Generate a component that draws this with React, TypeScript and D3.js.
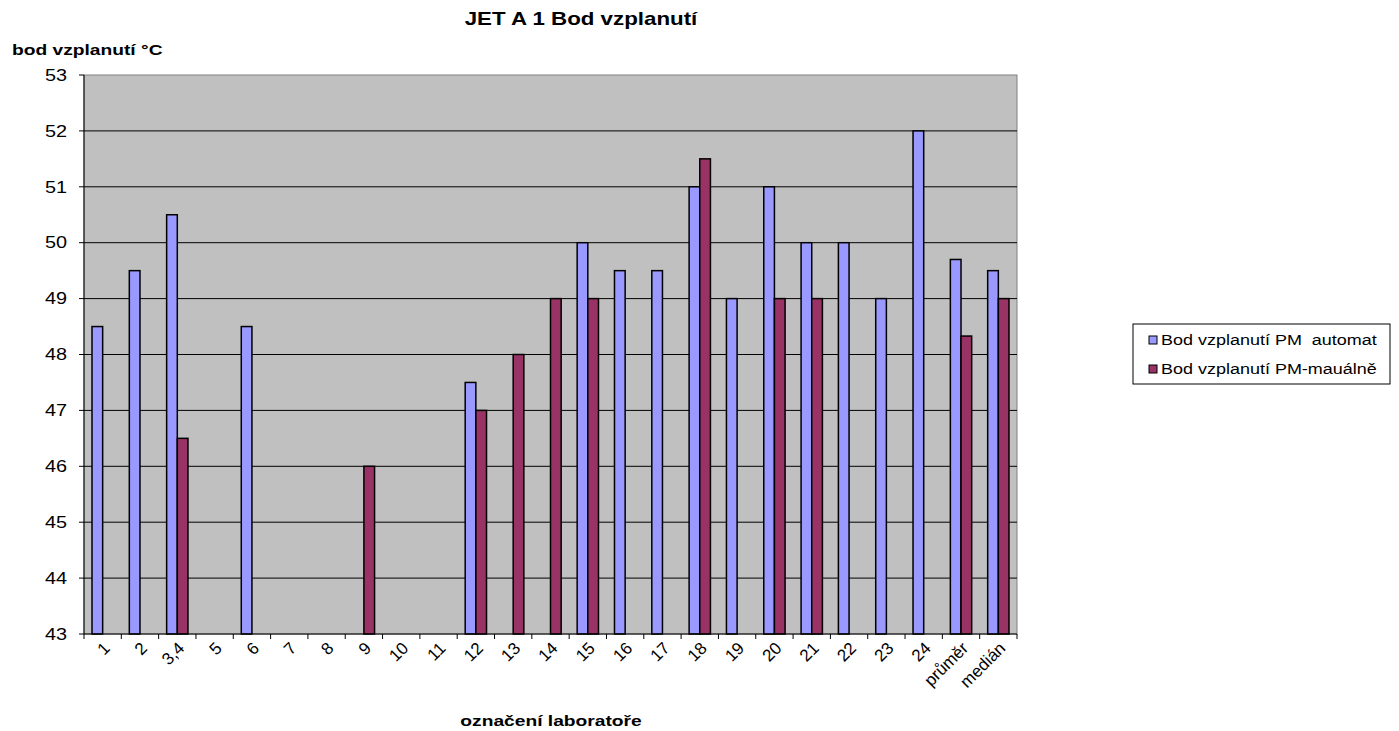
import React from "react";
import * as d3 from "d3";

const categories = ["1","2","3,4","5","6","7","8","9","10","11","12","13","14","15","16","17","18","19","20","21","22","23","24","průměr","medián"];
const automat: (number | null)[] = [48.5,49.5,50.5,null,48.5,null,null,null,null,null,47.5,null,null,50,49.5,49.5,51,49,51,50,50,49,52,49.7,49.5];
const manual: (number | null)[] = [null,null,46.5,null,null,null,null,46,null,null,47,48,49,49,null,null,51.5,null,49,49,null,null,null,48.33,49];
const seriesNames = ["Bod vzplanutí PM  automat", "Bod vzplanutí PM-mauálně"];
const seriesColors = ["#9999FF", "#993366"];
const yTicks = [43,44,45,46,47,48,49,50,51,52,53];

const SX = 1.24;

function T(props: { x: number; y: number; anchor?: string; size: number; bold?: boolean; children: React.ReactNode; dy?: string }) {
  return (
    <text transform={`translate(${props.x},${props.y}) scale(${SX},1)`} textAnchor={props.anchor || "start"}
      fontSize={props.size} fontWeight={props.bold ? "bold" : "normal"} dy={props.dy} style={{ whiteSpace: "pre" }}>
      {props.children}
    </text>
  );
}

export default function App() {
  const W = 1399, H = 731;
  const left = 84, right = 1017, top = 75, bottom = 634;
  const x = d3.scaleBand<string>().domain(categories).range([left, right]).paddingInner(0).paddingOuter(0);
  const y = d3.scaleLinear().domain([43, 53]).range([bottom, top]);
  const bw = x.bandwidth() / 3.5;
  const font = "'Liberation Sans', Arial, sans-serif";
  const series = [automat, manual];
  return (
    <svg width={W} height={H} style={{ position: "absolute", left: 0, top: 0 }} fontFamily={font}>
      <rect x={0} y={0} width={W} height={H} fill="#fff" />
      <T x={581} y={25} anchor="middle" size={18} bold>JET A 1 Bod vzplanutí</T>
      <T x={12} y={55} size={15.5} bold>bod vzplanutí °C</T>
      <rect x={left} y={top} width={right - left} height={bottom - top} fill="#C0C0C0" stroke="#808080" strokeWidth={1} />
      {yTicks.map((t) => (
        <g key={t}>
          {t > 43 && t < 53 && <line x1={left} x2={right} y1={y(t)} y2={y(t)} stroke="#000" strokeWidth={1} />}
          <line x1={left - 5} x2={left} y1={y(t)} y2={y(t)} stroke="#000" />
          <T x={67} y={y(t)} dy="0.36em" anchor="end" size={16}>{t}</T>
        </g>
      ))}
      {series.map((s, si) =>
        s.map((v, i) =>
          v == null ? null : (
            <rect key={si + "-" + i}
              x={(x(categories[i]) as number) + x.bandwidth() / 2 - bw + si * bw}
              y={y(v)} width={bw} height={bottom - y(v)}
              fill={seriesColors[si]} stroke="#000" strokeWidth={1.5} />
          )
        )
      )}
      <line x1={left} x2={left} y1={top} y2={bottom} stroke="#000" />
      <line x1={left} x2={right} y1={bottom} y2={bottom} stroke="#000" />
      {categories.map((c, i) => (
        <line key={"t" + i} x1={x(c) as number} x2={x(c) as number} y1={bottom} y2={bottom + 5} stroke="#000" />
      ))}
      <line x1={right} x2={right} y1={bottom} y2={bottom + 5} stroke="#000" />
      {categories.map((c) => {
        const cx = (x(c) as number) + x.bandwidth() / 2 + 4;
        return (
          <text key={"l" + c} transform={`translate(${cx},${645}) rotate(-45)`} textAnchor="end" dy="0.35em" fontSize={17}>{c}</text>
        );
      })}
      <T x={551} y={726} anchor="middle" size={15.5} bold>označení laboratoře</T>
      <rect x={1133} y={324} width={257} height={60} fill="#fff" stroke="#000" strokeWidth={1} />
      {seriesNames.map((n, i) => (
        <g key={n}>
          <rect x={1149} y={336 + i * 29} width={8} height={8} fill={seriesColors[i]} stroke="#000" strokeWidth={1} />
          <T x={1161} y={340 + i * 29} dy="0.36em" size={14.5}>{n}</T>
        </g>
      ))}
    </svg>
  );
}
